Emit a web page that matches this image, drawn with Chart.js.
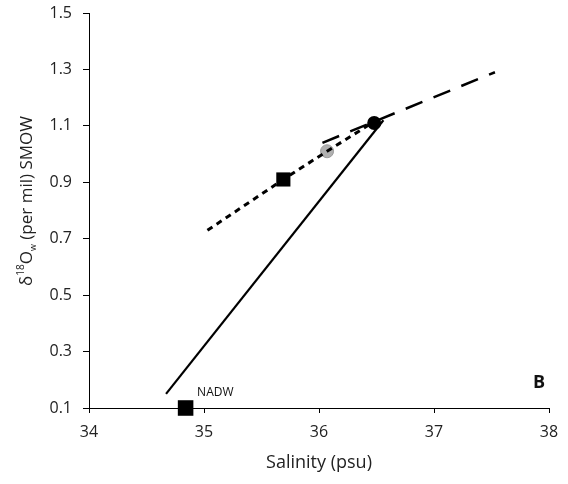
<!DOCTYPE html>
<html>
<head>
<meta charset="utf-8">
<script src="https://cdn.jsdelivr.net/npm/chart.js@4/dist/chart.umd.min.js"></script>
<style>
  html, body { margin: 0; padding: 0; background: #fff; }
  #wrap { width: 568px; height: 484px; }
</style>
</head>
<body>
<div id="wrap"><canvas id="c" width="568" height="484"></canvas></div>
<script>
// ---- data ----
const xTicks = [34, 35, 36, 37, 38];
const yTicks = [0.1, 0.3, 0.5, 0.7, 0.9, 1.1, 1.3, 1.5];

const mixingLine   = [{x: 34.67, y: 0.15}, {x: 36.56, y: 1.12}];
const shortDashX   = [35.03, 35.69, 36.07, 36.46];
const shortDashY   = [0.73, 0.91, 1.01, 1.11];
const longDashX    = [36.03, 36.48, 37.53];
const longDashY    = [1.04, 1.115, 1.29];

const squareX = [34.84, 35.69];
const squareY = [0.10, 0.91];
const blackCircle = [{x: 36.48, y: 1.11}];
const grayCircle  = [{x: 36.07, y: 1.01}];

const labelNADW = {text: 'NADW', x: 34.94, y: 0.155};
const labelB    = {text: 'B',    x: 37.86, y: 0.19};

const FONT = '"Open Sans", "Liberation Sans", sans-serif';

const zip = (xs, ys) => xs.map((x, i) => ({x, y: ys[i]}));

// y-axis title with superscript/subscript
const yTitlePlugin = {
  id: 'yTitle',
  afterDraw(chart) {
    const ctx = chart.ctx;
    const parts = [
      {t: 'δ', size: 17, dy: 0},
      {t: '18', size: 10, dy: -6},
      {t: 'O', size: 17, dy: 0},
      {t: 'w', size: 9, dy: 6},
      {t: ' (per mil) SMOW', size: 17, dy: 0}
    ];
    ctx.save();
    let total = 0;
    parts.forEach(p => { ctx.font = p.size + 'px ' + FONT; p.w = ctx.measureText(p.t).width; total += p.w; });
    ctx.translate(27, 201);
    ctx.rotate(-Math.PI / 2);
    ctx.fillStyle = '#222';
    ctx.textBaseline = 'middle';
    ctx.textAlign = 'left';
    let x = -total / 2;
    parts.forEach(p => {
      ctx.font = p.size + 'px ' + FONT;
      ctx.fillText(p.t, x, p.dy);
      x += p.w;
    });
    ctx.restore();
  }
};

const labelPlugin = {
  id: 'labels',
  afterDatasetsDraw(chart) {
    const ctx = chart.ctx;
    const xs = chart.scales.x, ys = chart.scales.y;
    ctx.save();
    ctx.fillStyle = '#111';
    ctx.textBaseline = 'middle';
    ctx.textAlign = 'left';
    ctx.font = '12px ' + FONT;
    ctx.fillText(labelNADW.text, xs.getPixelForValue(labelNADW.x), ys.getPixelForValue(labelNADW.y));
    ctx.font = 'bold 18px ' + FONT;
    ctx.fillText(labelB.text, xs.getPixelForValue(labelB.x), ys.getPixelForValue(labelB.y));
    ctx.restore();
  }
};

new Chart(document.getElementById('c'), {
  type: 'scatter',
  data: {
    datasets: [
      {
        data: mixingLine, showLine: true, borderColor: '#000', borderWidth: 2.2,
        pointRadius: 0, pointHoverRadius: 0, clip: false
      },
      {
        data: zip(shortDashX, shortDashY), showLine: true, borderColor: '#000', borderWidth: 3,
        borderDash: [6, 5], pointRadius: 0, pointHoverRadius: 0, clip: false
      },
      {
        data: zip(longDashX, longDashY), showLine: true, borderColor: '#000', borderWidth: 2.5,
        borderDash: [18, 12], pointRadius: 0, pointHoverRadius: 0, clip: false
      },
      {
        data: zip(squareX, squareY), showLine: false, pointStyle: 'rect',
        pointRadius: [11, 10], backgroundColor: '#000', borderColor: '#000', borderWidth: 0, clip: false
      },
      {
        data: blackCircle, showLine: false, pointStyle: 'circle',
        pointRadius: 7, backgroundColor: '#000', borderColor: '#000', borderWidth: 0, clip: false
      },
      {
        data: grayCircle, showLine: false, pointStyle: 'circle',
        pointRadius: 6.5, backgroundColor: '#b0b0b0', borderColor: '#9a9a9a', borderWidth: 1, clip: false
      }
    ]
  },
  options: {
    responsive: false,
    animation: false,
    events: [],
    layout: { padding: { left: 0, right: 19, top: 13, bottom: 0 } },
    plugins: { legend: { display: false }, tooltip: { enabled: false } },
    scales: {
      x: {
        type: 'linear', min: 34, max: 38,
        afterBuildTicks: s => { s.ticks = xTicks.map(v => ({value: v})); },
        afterFit: s => { s.height = 76; s.paddingLeft = 0; s.paddingRight = 0; },
        grid: { display: true, drawOnChartArea: false, drawTicks: true, tickLength: 5, color: '#000', lineWidth: 1 },
        border: { display: true, color: '#000', width: 1 },
        ticks: { color: '#222', font: { family: FONT, size: 16 }, padding: 10 },
        title: { display: true, text: 'Salinity (psu)', color: '#222', font: { family: FONT, size: 18 }, padding: { top: 0, bottom: 10 } }
      },
      y: {
        type: 'linear', min: 0.1, max: 1.5,
        afterBuildTicks: s => { s.ticks = yTicks.map(v => ({value: v})); },
        afterFit: s => { s.width = 89; s.paddingTop = 0; s.paddingBottom = 0; },
        grid: { display: true, drawOnChartArea: false, drawTicks: true, tickLength: 6, color: '#000', lineWidth: 1 },
        border: { display: true, color: '#000', width: 1 },
        ticks: { color: '#222', font: { family: FONT, size: 16 }, padding: 11, callback: v => v.toFixed(1) }
      }
    }
  },
  plugins: [yTitlePlugin, labelPlugin]
});
</script>
</body>
</html>
